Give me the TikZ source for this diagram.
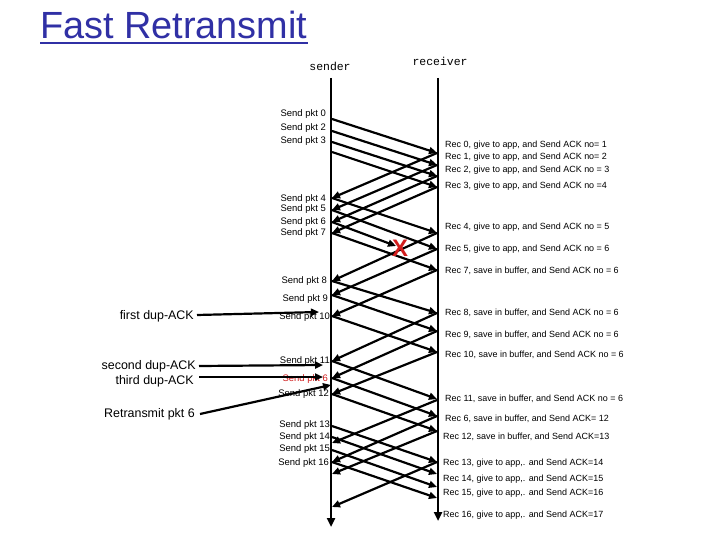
\documentclass[tikz,border=0pt]{standalone}
\usepackage{fontspec}
\setmainfont{Liberation Sans}
\newfontfamily\lifefont{Liberation Mono}
\usetikzlibrary{arrows.meta}
\definecolor{titleblue}{RGB}{48,48,165}
\definecolor{lossred}{RGB}{210,30,30}
\begin{document}
\begin{tikzpicture}[x=1bp,y=-1bp,
  lifeline/.style={line width=2.6bp,-{Triangle[length=9bp,width=8bp]}},
  msg/.style={line width=2.2bp,-{Triangle[length=8bp,width=7bp]}},
  sendlbl/.style={anchor=east,inner sep=0pt,font=\fontsize{9.5}{10}\selectfont},
  reclbl/.style={anchor=west,inner sep=0pt,font=\fontsize{9}{10}\selectfont},
  leftlbl/.style={anchor=east,inner sep=0pt,font=\fontsize{12.5}{14}\selectfont},
  partlbl/.style={inner sep=0pt,font=\lifefont\fontsize{11.5}{12}\selectfont},
]
\useasboundingbox (0,0) rectangle (720,540);
\fill[white] (0,0) rectangle (720,540);

% title
\node[anchor=base west,inner sep=0pt,text=titleblue,font=\fontsize{38}{40}\selectfont] (title) at (40,39) {Fast Retransmit};
\draw[titleblue,line width=2bp] ([yshift=-4bp]title.base west) -- ([yshift=-4bp]title.base east);

% participants
\node[partlbl] (sender) at (330,66) {sender};
\node[partlbl] (receiver) at (440,61) {receiver};
\coordinate (stop) at (331,78);
\coordinate (sbot) at (331,527);
\coordinate (rtop) at (438,78);
\coordinate (rbot) at (438,521);
\draw[lifeline] (stop) -- (sbot);
\draw[lifeline] (rtop) -- (rbot);

% sender labels
\node[sendlbl] (s0) at (326,114) {Send pkt 0};
\node[sendlbl] (s2) at (326,128) {Send pkt 2};
\node[sendlbl] (s3) at (326,141) {Send pkt 3};
\node[sendlbl] (s4) at (326,199) {Send pkt 4};
\node[sendlbl] (s5) at (326,209) {Send pkt 5};
\node[sendlbl] (s6) at (326,222) {Send pkt 6};
\node[sendlbl] (s7) at (326,233) {Send pkt 7};
\node[sendlbl] (s8) at (327,281) {Send pkt 8};
\node[sendlbl] (s9) at (328,299) {Send pkt 9};
\node[sendlbl] (s10) at (330,317) {Send pkt 10};
\node[sendlbl] (s11) at (330,361) {Send pkt 11};
\node[sendlbl,text=lossred] (s6r) at (328,379) {Send pkt 6};
\node[sendlbl] (s12) at (329,394) {Send pkt 12};
\node[sendlbl] (s13) at (330,425) {Send pkt 13};
\node[sendlbl] (s14) at (330,437) {Send pkt 14};
\node[sendlbl] (s15) at (330,449) {Send pkt 15};
\node[sendlbl] (s16) at (329,463) {Send pkt 16};

% receiver labels
\node[reclbl] (r0) at (445,145) {Rec 0, give to app, and Send ACK no= 1};
\node[reclbl] (r1) at (445,157) {Rec 1, give to app, and Send ACK no= 2};
\node[reclbl] (r2) at (445,170) {Rec 2, give to app, and Send ACK no = 3};
\node[reclbl] (r3) at (445,186) {Rec 3, give to app, and Send ACK no =4};
\node[reclbl] (r4) at (445,227) {Rec 4, give to app, and Send ACK no = 5};
\node[reclbl] (r5) at (445,249) {Rec 5, give to app, and Send ACK no = 6};
\node[reclbl] (r7) at (445,271) {Rec 7, save in buffer, and Send ACK no = 6};
\node[reclbl] (r8) at (445,313) {Rec 8, save in buffer, and Send ACK no = 6};
\node[reclbl] (r9) at (445,335) {Rec 9, save in buffer, and Send ACK no = 6};
\node[reclbl] (r10) at (445,355) {Rec 10, save in buffer, and Send ACK no = 6};
\node[reclbl] (r11) at (445,399) {Rec 11, save in buffer, and Send ACK no = 6};
\node[reclbl] (r6) at (445,419) {Rec 6, save in buffer, and Send ACK= 12};
\node[reclbl] (r12) at (443,437) {Rec 12, save in buffer, and Send ACK=13};
\node[reclbl] (r13) at (443,463) {Rec 13, give to app,. and Send ACK=14};
\node[reclbl] (r14) at (443,479) {Rec 14, give to app,. and Send ACK=15};
\node[reclbl] (r15) at (443,493) {Rec 15, give to app,. and Send ACK=16};
\node[reclbl] (r16) at (443,515) {Rec 16, give to app,. and Send ACK=17};

% data packets sender -> receiver
\foreach \a/\b in {119/153,131/165,142/176,152/187,198/233,210/249,233/270,
  281/313,295/331,316/352,361/399,378/416,394/431,426/462,437/474,450/487,462/498}{
  \coordinate (ds\a) at (332,\a);
  \coordinate (dr\b) at (437,\b);
  \draw[msg] (ds\a) -- (dr\b);
}
% ACKs receiver -> sender
\foreach \b/\a in {153/198,165/210,176/222,187/233,233/281,249/295,270/316,
  313/361,331/378,352/394,400/443,416/462,431/474,462/507}{
  \coordinate (ar\b) at (437,\b);
  \coordinate (as\a) at (332,\a);
  \draw[msg] (ar\b) -- (as\a);
}
% lost packet 6
\coordinate (lsend) at (332,222);
\coordinate (lost) at (396,246);
\draw[msg] (lsend) -- (lost);
\node[text=lossred,inner sep=0pt,font=\fontsize{24}{24}\selectfont\bfseries] (xmark) at (400,248) {X};

% left annotations
\node[leftlbl] (first) at (194,316) {first dup-ACK};
\node[leftlbl] (second) at (196,366) {second dup-ACK};
\node[leftlbl] (third) at (194,381) {third dup-ACK};
\node[leftlbl] (retx) at (195,414) {Retransmit pkt 6};
\coordinate (fa) at (319,312);
\coordinate (sa) at (323,365);
\coordinate (ta) at (323,377);
\coordinate (ra) at (331,385);
\draw[msg] ([xshift=3bp,yshift=1bp]first.east) -- (fa);
\draw[msg] ([xshift=3bp]second.east) -- (sa);
\draw[msg] ([xshift=5bp]third.east |- ta) -- (ta);
\draw[msg] ([xshift=5bp]retx.east) -- (ra);
\end{tikzpicture}
\end{document}
